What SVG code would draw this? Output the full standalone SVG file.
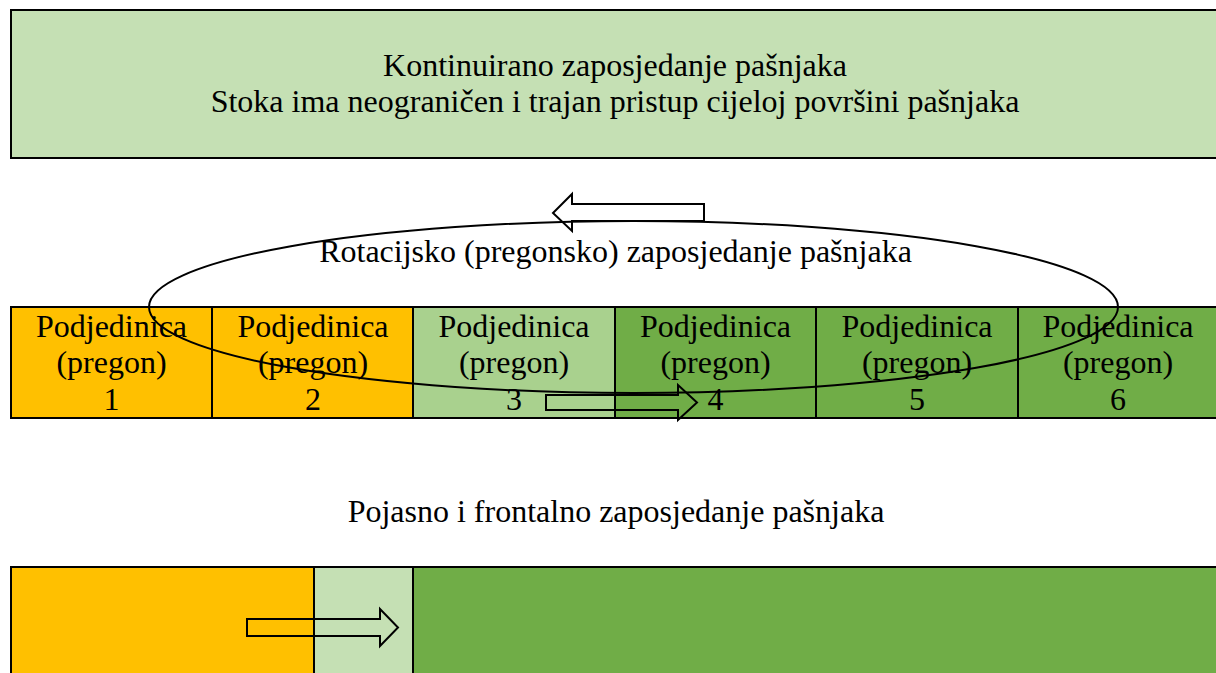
<svg xmlns="http://www.w3.org/2000/svg" width="1216" height="673" viewBox="0 0 1216 673">
<style>
text{font-family:"Liberation Serif","Times New Roman",serif;font-size:32px;fill:#000;text-anchor:middle}
.b{stroke:#000;stroke-width:2}
.arr{fill:none;stroke:#000;stroke-width:2;stroke-linejoin:miter}
</style>
<rect width="1216" height="673" fill="#fff"/>
<g id="continuous">
<rect class="b" x="11" y="10" width="1210" height="148" fill="#C5E0B4"/>
<text x="615" y="76">Kontinuirano zaposjedanje pašnjaka</text>
<text x="615" y="112">Stoka ima neograničen i trajan pristup cijeloj površini pašnjaka</text>
</g>
<g id="rotation-title"><text x="615.5" y="262">Rotacijsko (pregonsko) zaposjedanje pašnjaka</text></g>
<g id="cell1"><rect class="b" x="11" y="307" width="201" height="111" fill="#FFC000"/><text x="111.5" y="337">Podjedinica</text><text x="111.5" y="373">(pregon)</text><text x="111.5" y="410">1</text></g>
<g id="cell2"><rect class="b" x="212" y="307" width="201" height="111" fill="#FFC000"/><text x="313" y="337">Podjedinica</text><text x="313" y="373">(pregon)</text><text x="313" y="410">2</text></g>
<g id="cell3"><rect class="b" x="413" y="307" width="202" height="111" fill="#A9D18E"/><text x="514" y="337">Podjedinica</text><text x="514" y="373">(pregon)</text><text x="514" y="410">3</text></g>
<g id="cell4"><rect class="b" x="615" y="307" width="201" height="111" fill="#70AD47"/><text x="715.5" y="337">Podjedinica</text><text x="715.5" y="373">(pregon)</text><text x="715.5" y="410">4</text></g>
<g id="cell5"><rect class="b" x="816" y="307" width="202" height="111" fill="#70AD47"/><text x="917" y="337">Podjedinica</text><text x="917" y="373">(pregon)</text><text x="917" y="410">5</text></g>
<g id="cell6"><rect class="b" x="1018" y="307" width="203" height="111" fill="#70AD47"/><text x="1118" y="337">Podjedinica</text><text x="1118" y="373">(pregon)</text><text x="1118" y="410">6</text></g>
<g id="band-title"><text x="616" y="522">Pojasno i frontalno zaposjedanje pašnjaka</text></g>
<g id="band">
<rect class="b" x="11" y="567" width="303" height="110" fill="#FFC000"/>
<rect class="b" x="314" y="567" width="99" height="110" fill="#C5E0B4"/>
<rect class="b" x="413" y="567" width="808" height="110" fill="#70AD47"/>
</g>
<g id="connectors">
<ellipse class="arr" cx="633.5" cy="307" rx="484.5" ry="86"/>
<path class="arr" d="M704,204 L572,204 L572,194 L553,213 L572,231 L572,221 L704,221 Z"/>
<path class="arr" d="M546,395 L678,395 L678,385 L697,402.5 L678,420 L678,410 L546,410 Z"/>
<path class="arr" d="M247,619 L380,619 L380,609 L398,627.5 L380,646 L380,636 L247,636 Z"/>
</g>
</svg>
